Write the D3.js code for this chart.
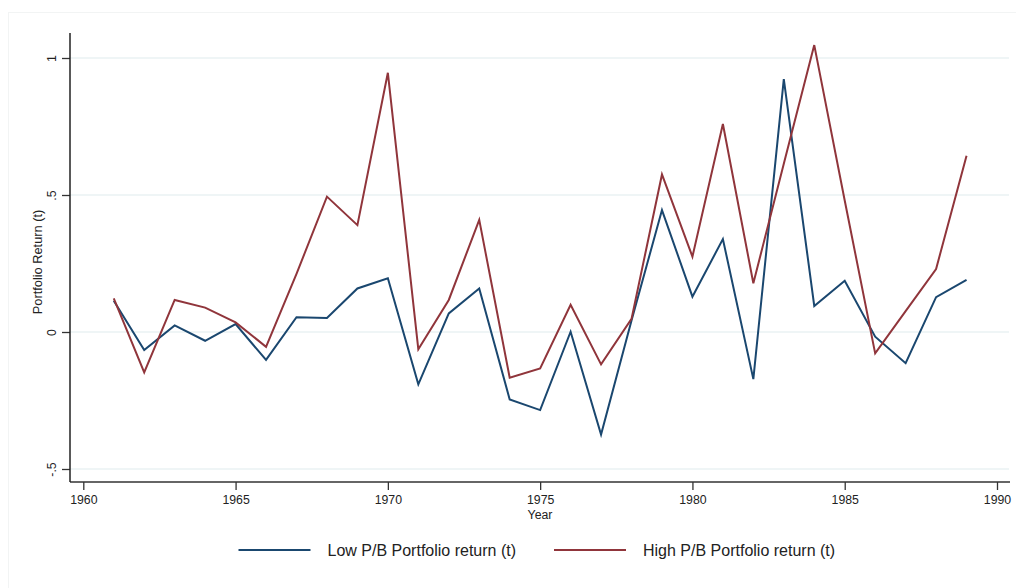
<!DOCTYPE html>
<html>
<head>
<meta charset="utf-8">
<script src="https://cdn.jsdelivr.net/npm/d3@7"></script>
<style>
  body { margin: 0; background: #fff; }
  svg { display: block; font-family: "Liberation Sans", Arial, sans-serif; }
</style>
</head>
<body>
<svg id="chart" width="1016" height="588"></svg>
<script>
// data
let years = [1961, 1962, 1963, 1964, 1965, 1966, 1967, 1968, 1969, 1970,
             1971, 1972, 1973, 1974, 1975, 1976, 1977, 1978, 1979, 1980,
             1981, 1982, 1983, 1984, 1985, 1986, 1987, 1988, 1989];
let lowPB = [0.114, -0.066, 0.024, -0.032, 0.029, -0.102, 0.054, 0.051, 0.159, 0.196,
             -0.191, 0.068, 0.159, -0.246, -0.285, 0.001, -0.374, 0.042, 0.445, 0.129,
             0.339, -0.172, 0.923, 0.095, 0.187, -0.017, -0.114, 0.127, 0.190];
let highPB = [0.123, -0.147, 0.117, 0.089, 0.035, -0.054, 0.212, 0.494, 0.390, 0.946,
              -0.063, 0.117, 0.409, -0.167, -0.133, 0.099, -0.118, 0.048, 0.575, 0.275,
              0.759, 0.178, 0.614, 1.047, 0.480, -0.078, 0.076, 0.230, 0.643];
let xTicks = [1960, 1965, 1970, 1975, 1980, 1985, 1990];
let yTicks = [-0.5, 0, 0.5, 1];
let yTickLabels = ["-.5", "0", ".5", "1"];
let seriesNames = ["Low P/B Portfolio return (t)", "High P/B Portfolio return (t)"];
let seriesColors = ["#1a476f", "#90353b"];

let svg = d3.select("#chart");

// faint outer frame
svg.append("rect")
   .attr("x", 8.5).attr("y", 12.5)
   .attr("width", 1020).attr("height", 600)
   .attr("fill", "none")
   .attr("stroke", "#f2f4f4");

let plotLeft = 70, plotRight = 1010, plotTop = 33, plotBottom = 482;

let x = d3.scaleLinear().domain([1960, 1990]).range([83.3, 997]);
let y = d3.scaleLinear().domain([-0.5, 1]).range([469, 58]);

// gridlines
svg.append("g")
   .selectAll("line")
   .data(yTicks)
   .enter()
   .append("line")
   .attr("x1", plotLeft).attr("x2", plotRight - 1)
   .attr("y1", d => y(d)).attr("y2", d => y(d))
   .attr("stroke", "#eaf2f3")
   .attr("stroke-width", 1.5);

// axes
let xAxis = d3.axisBottom(x).tickValues(xTicks).tickFormat(d3.format("d"))
              .tickSizeInner(8).tickSizeOuter(0).tickPadding(5);
let yAxis = d3.axisLeft(y).tickValues(yTicks)
              .tickFormat((d, i) => yTickLabels[i])
              .tickSizeInner(8).tickSizeOuter(0);

let gx = svg.append("g")
   .attr("transform", `translate(0, ${plotBottom})`)
   .call(xAxis);
gx.select(".domain").remove();
gx.append("line")
  .attr("x1", plotLeft).attr("x2", plotRight)
  .attr("stroke", "#333").attr("stroke-width", 1.5);
gx.selectAll(".tick line").attr("stroke", "#333").attr("stroke-width", 1.3);
gx.selectAll(".tick text")
  .attr("fill", "#222")
  .style("font-size", "12.3px");

let gy = svg.append("g")
   .attr("transform", `translate(${plotLeft}, 0)`)
   .call(yAxis);
gy.select(".domain").remove();
gy.append("line")
  .attr("y1", plotTop).attr("y2", plotBottom)
  .attr("stroke", "#222").attr("stroke-width", 1.5);
gy.selectAll(".tick line").attr("stroke", "#333").attr("stroke-width", 1.3);
gy.selectAll(".tick text")
  .attr("fill", "#222")
  .style("font-size", "12.3px")
  .attr("text-anchor", "middle")
  .attr("x", null)
  .attr("transform", "translate(-18, 0) rotate(-90)")
  .attr("dy", "0.35em");

// axis titles
svg.append("text")
   .attr("x", 540).attr("y", 518.5)
   .attr("text-anchor", "middle")
   .attr("fill", "#222")
   .style("font-size", "12.3px")
   .text("Year");

svg.append("text")
   .attr("transform", "translate(42, 262) rotate(-90)")
   .attr("text-anchor", "middle")
   .attr("fill", "#222")
   .style("font-size", "12.8px")
   .text("Portfolio Return (t)");

// lines
let line = d3.line()
             .x((d, i) => x(years[i]))
             .y(d => y(d));

svg.append("path")
   .datum(lowPB)
   .attr("d", line)
   .attr("fill", "none")
   .attr("stroke", seriesColors[0])
   .attr("stroke-width", 2)
   .attr("stroke-linejoin", "miter");

svg.append("path")
   .datum(highPB)
   .attr("d", line)
   .attr("fill", "none")
   .attr("stroke", seriesColors[1])
   .attr("stroke-width", 2)
   .attr("stroke-linejoin", "miter");

// legend
let legendX = [238.5, 554];
let legend = svg.append("g")
   .selectAll("g")
   .data(seriesNames)
   .enter()
   .append("g")
   .attr("transform", (d, i) => `translate(${legendX[i]}, 550)`);

legend.append("line")
      .attr("x1", 0).attr("x2", 72)
      .attr("stroke", (d, i) => seriesColors[i])
      .attr("stroke-width", 2);

legend.append("text")
      .attr("x", 89)
      .attr("dy", "0.36em")
      .attr("fill", "#222")
      .style("font-size", "16px")
      .text(d => d);
</script>
</body>
</html>
